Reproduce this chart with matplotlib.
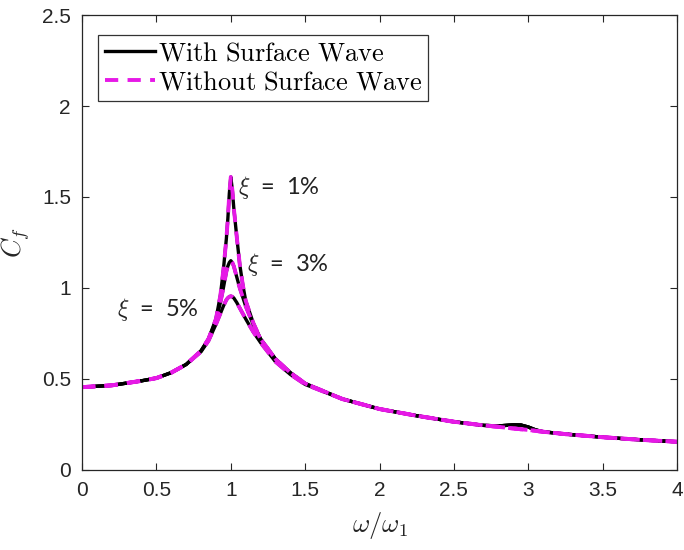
import matplotlib
matplotlib.use('Agg')
import matplotlib.pyplot as plt

plt.rcParams['mathtext.fontset'] = 'cm'
plt.rcParams['font.family'] = ['Liberation Sans', 'DejaVu Sans']

# frequency ratio w/w1
x = [0.0, 0.2, 0.4, 0.5, 0.6, 0.7, 0.8, 0.85, 0.9, 0.93, 0.95, 0.97, 0.98, 0.99,
     1.0, 1.01, 1.02, 1.04, 1.06, 1.08, 1.1, 1.15, 1.2, 1.3, 1.4, 1.5, 1.75,
     2.0, 2.25, 2.5, 2.7, 2.8, 2.9, 2.95, 3.0, 3.05, 3.1, 3.25, 3.5, 3.75, 4.0]

# without surface wave (damping 1%, 3%, 5%)
cf_1 = [0.455, 0.465, 0.49, 0.505, 0.535, 0.58, 0.655, 0.72, 0.83, 0.96, 1.10, 1.27, 1.38, 1.52,
        1.61, 1.54, 1.44, 1.28, 1.13, 1.02, 0.93, 0.81, 0.72, 0.61, 0.535, 0.475, 0.39,
        0.335, 0.298, 0.265, 0.245, 0.237, 0.228, 0.224, 0.22, 0.215, 0.21, 0.197, 0.18, 0.166, 0.155]
cf_3 = [0.455, 0.465, 0.49, 0.505, 0.535, 0.58, 0.655, 0.72, 0.82, 0.92, 1.00, 1.09, 1.12, 1.14,
        1.15, 1.14, 1.12, 1.06, 1.00, 0.95, 0.90, 0.80, 0.72, 0.61, 0.535, 0.475, 0.39,
        0.335, 0.298, 0.265, 0.245, 0.237, 0.228, 0.224, 0.22, 0.215, 0.21, 0.197, 0.18, 0.166, 0.155]
cf_5 = [0.455, 0.465, 0.49, 0.505, 0.535, 0.58, 0.65, 0.71, 0.80, 0.86, 0.90, 0.935, 0.945, 0.952,
        0.955, 0.952, 0.945, 0.92, 0.89, 0.86, 0.83, 0.76, 0.70, 0.595, 0.525, 0.47, 0.39,
        0.335, 0.298, 0.265, 0.245, 0.237, 0.228, 0.224, 0.22, 0.215, 0.21, 0.197, 0.18, 0.166, 0.155]

# with surface wave: same except a small bump near w/w1 = 3
bump = {2.8: 0.242, 2.9: 0.248, 2.95: 0.247, 3.0: 0.236, 3.05: 0.22, 3.1: 0.21}
sw_1 = [bump.get(xi, v) for xi, v in zip(x, cf_1)]
sw_3 = [bump.get(xi, v) for xi, v in zip(x, cf_3)]
sw_5 = [bump.get(xi, v) for xi, v in zip(x, cf_5)]

fig = plt.figure(figsize=(6.84, 5.5), dpi=100)
ax = fig.add_axes([0.12, 0.1455, 0.8698, 0.8272])

for i, y in enumerate([sw_1, sw_3, sw_5]):
    ax.plot(x, y, color='black', lw=2.4, label='$\\mathrm{With\\ Surface\\ Wave}$' if i == 0 else None)
for i, y in enumerate([cf_1, cf_3, cf_5]):
    ax.plot(x, y, color='#e619e6', lw=2.8, ls=(0, (3.4, 2.4)),
            label='$\\mathrm{Without\\ Surface\\ Wave}$' if i == 0 else None)

ax.set_xlim(0, 4)
ax.set_ylim(0, 2.5)
ax.set_xticks([0, 0.5, 1, 1.5, 2, 2.5, 3, 3.5, 4])
ax.set_xticklabels(['0', '0.5', '1', '1.5', '2', '2.5', '3', '3.5', '4'])
ax.set_yticks([0, 0.5, 1, 1.5, 2, 2.5])
ax.set_yticklabels(['0', '0.5', '1', '1.5', '2', '2.5'])
ax.tick_params(direction='in', top=True, right=True, length=5, width=0.8,
               labelsize=15, colors='#262626', pad=8)
for s in ax.spines.values():
    s.set_color('#262626')
    s.set_linewidth(0.9)

ax.set_xlabel('$\\omega/\\omega_1$', fontsize=19, color='#262626', labelpad=7)
ax.set_ylabel('$C_f$', fontsize=19, color='#262626')
ax.yaxis.set_label_coords(-0.085, 0.5)

ann = dict(fontsize=17, va='center', color='#222222', family=['Lato', 'DejaVu Sans'])
ax.text(1.05, 1.55, '$\\xi$  =  1%', **ann)
ax.text(1.11, 1.13, '$\\xi$  =  3%', **ann)
ax.text(0.235, 0.88, '$\\xi$  =  5%', **ann)

leg = ax.legend(loc='upper left', bbox_to_anchor=(0.027, 0.957), borderaxespad=0,
                fontsize=19, handlelength=1.9, handletextpad=0.1, labelspacing=0.2,
                borderpad=0.25, fancybox=False, framealpha=1)
leg.get_frame().set_edgecolor('#333333')
leg.get_frame().set_linewidth(0.9)

fig.savefig('out.png', dpi=100)
